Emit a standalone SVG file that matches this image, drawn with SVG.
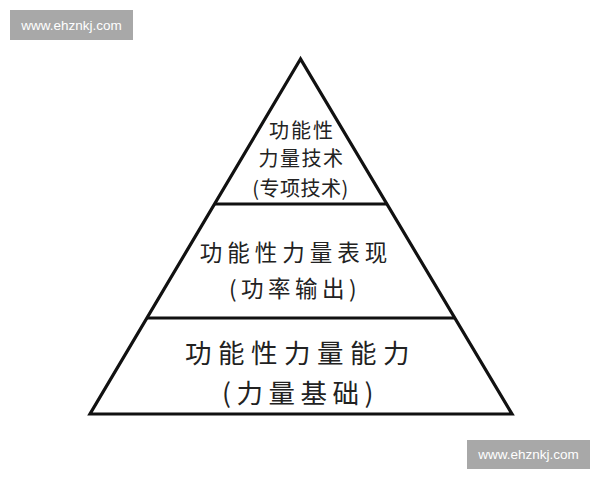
<svg xmlns="http://www.w3.org/2000/svg" width="600" height="480" viewBox="0 0 600 480">
<style>
.edge{stroke:#111;stroke-width:3.2;fill:none;stroke-linejoin:miter}
.t{font-family:"Noto Sans CJK SC","Noto Sans",sans-serif;fill:#222;text-anchor:middle;font-weight:400}
.wm{fill:#a8a8a8}
.wmt{font-family:"Liberation Sans",Arial,sans-serif;font-size:13.5px;fill:#fff;text-anchor:middle}
</style>
<rect width="600" height="480" fill="#fff"/>
<g id="watermark-top">
<rect class="wm" x="10" y="10" width="123" height="30"/>
<text class="wmt" x="71.5" y="29.5">www.ehznkj.com</text>
</g>
<g id="connectors">
<polygon class="edge" points="300.5,59 90,414 512,414"/>
<line class="edge" x1="214" y1="204" x2="387" y2="204"/>
<line class="edge" x1="147" y1="318" x2="454" y2="318"/>
</g>
<g id="node-top">
<text class="t" font-size="20" letter-spacing="2" x="302" y="137.5">功能性</text>
<text class="t" font-size="20" letter-spacing="1.5" x="301.5" y="165.5">力量技术</text>
<text class="t" font-size="20" letter-spacing="0.5" x="300.5" y="195.5">(专项技术)</text>
</g>
<g id="node-middle">
<text class="t" font-size="22.5" letter-spacing="5" x="296" y="260.5">功能性力量表现</text>
<text class="t" font-size="22.5" letter-spacing="4.5" x="295" y="296.5">(功率输出)</text>
</g>
<g id="node-bottom">
<text class="t" font-size="26.5" letter-spacing="6.5" x="300.5" y="363">功能性力量能力</text>
<text class="t" font-size="26.5" letter-spacing="5.5" x="300.5" y="403">(力量基础)</text>
</g>
<g id="watermark-bottom">
<rect class="wm" x="467" y="440" width="123" height="29"/>
<text class="wmt" x="528.5" y="459">www.ehznkj.com</text>
</g>
</svg>
